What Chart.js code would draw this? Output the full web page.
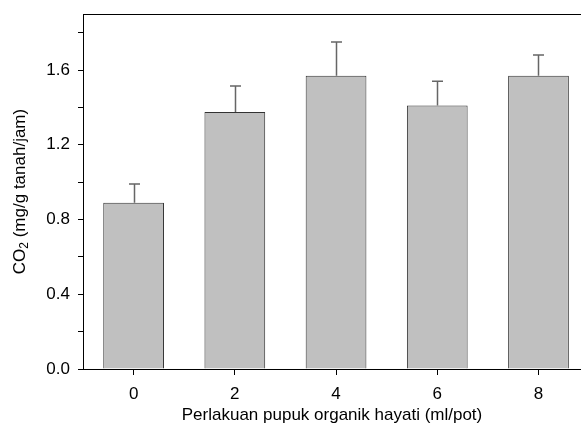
<!DOCTYPE html>
<html lang="id">
<head>
  <meta charset="UTF-8">
  <title>CO2 - Perlakuan pupuk organik hayati</title>
  <script src="https://cdn.jsdelivr.net/npm/chart.js"></script>
  <style>
    body {
      margin: 0;
      background-color: #fff;
      overflow: hidden;
    }
    #co2Chart {
      display: block;
    }
  </style>
</head>
<body>
  <canvas id="co2Chart" width="581" height="432"></canvas>

  <script>
    // dosis pupuk (ml/pot)
    const dosis = [0, 2, 4, 6, 8];
    // rata-rata CO2 (mg/g tanah/jam)
    const co2Mean = [0.89, 1.375, 1.57, 1.41, 1.57];
    // simpangan (error bar ke atas)
    const co2Err = [0.10, 0.14, 0.18, 0.13, 0.11];
    const yTicks = [0.0, 0.4, 0.8, 1.2, 1.6];

    const FONT = 'Arial, "Liberation Sans", sans-serif';
    const FS = 17;

    // garis atas + error bar + judul sumbu y (dengan subscript)
    const extras = {
      id: 'extras',
      afterDatasetsDraw(chart) {
        const ctx = chart.ctx;
        const x = chart.scales.x, y = chart.scales.y;
        ctx.save();
        ctx.strokeStyle = '#666';
        ctx.lineWidth = 1.5;
        dosis.forEach((d, i) => {
          const px = Math.round(x.getPixelForValue(d)) + 0.5;
          const top = y.getPixelForValue(co2Mean[i]);
          const end = y.getPixelForValue(co2Mean[i] + co2Err[i]);
          ctx.beginPath();
          ctx.moveTo(px, top);
          ctx.lineTo(px, end);
          ctx.moveTo(px - 5.5, end);
          ctx.lineTo(px + 5.5, end);
          ctx.stroke();
        });
        ctx.restore();
      },
      afterDraw(chart) {
        const ctx = chart.ctx;
        const area = chart.chartArea;
        ctx.save();
        ctx.strokeStyle = '#000';
        ctx.lineWidth = 1;
        ctx.beginPath();
        ctx.moveTo(area.left, Math.round(area.top) + 0.5);
        ctx.lineTo(chart.width, Math.round(area.top) + 0.5);
        ctx.stroke();

        // judul sumbu y
        ctx.translate(20, (area.top + area.bottom) / 2);
        ctx.rotate(-Math.PI / 2);
        ctx.fillStyle = '#000';
        ctx.textBaseline = 'middle';
        const big = FS + 'px ' + FONT, small = '12px ' + FONT;
        const p1 = 'CO', p2 = '2', p3 = ' (mg/g tanah/jam)';
        ctx.font = big;
        const w1 = ctx.measureText(p1).width, w3 = ctx.measureText(p3).width;
        ctx.font = small;
        const w2 = ctx.measureText(p2).width;
        let sx = -(w1 + w2 + w3) / 2;
        ctx.font = big;
        ctx.fillText(p1, sx, 0);
        sx += w1;
        ctx.font = small;
        ctx.fillText(p2, sx, 5);
        sx += w2;
        ctx.font = big;
        ctx.fillText(p3, sx, 0);
        ctx.restore();
      }
    };

    new Chart(document.getElementById('co2Chart'), {
      type: 'bar',
      data: {
        datasets: [{
          data: dosis.map((d, i) => ({ x: d, y: co2Mean[i] })),
          backgroundColor: '#c0c0c0',
          borderColor: '#333',
          borderWidth: 1,
          barPercentage: 0.6,
          categoryPercentage: 1.0
        }]
      },
      options: {
        responsive: false,
        animation: false,
        layout: { padding: { top: 14, left: 0, right: 0, bottom: 0 } },
        plugins: {
          legend: { display: false },
          tooltip: { enabled: false }
        },
        scales: {
          x: {
            type: 'linear',
            min: -1,
            max: 8.84,
            offset: false,
            afterBuildTicks(axis) {
              axis.ticks = dosis.map(v => ({ value: v }));
            },
            afterFit(axis) {
              axis.height = 63;
              axis.paddingLeft = 0;
              axis.paddingRight = 0;
            },
            grid: { offset: false, drawOnChartArea: false, drawTicks: true, tickLength: 6, color: '#000' },
            border: { display: true, color: '#000', width: 1 },
            ticks: {
              color: '#000',
              padding: 9,
              font: { family: FONT, size: FS },
              callback: v => String(v)
            },
            title: {
              display: true,
              text: 'Perlakuan pupuk organik hayati (ml/pot)',
              color: '#000',
              font: { family: FONT, size: FS },
              padding: { top: 4, bottom: 6 }
            }
          },
          y: {
            min: 0,
            max: 1.9,
            afterBuildTicks(axis) {
              const t = [];
              for (let i = 0; i <= 9; i++) t.push({ value: i * 0.2 });
              axis.ticks = t;
            },
            afterFit(axis) {
              axis.width = 83;
              axis.paddingTop = 0;
              axis.paddingBottom = 0;
            },
            grid: { drawOnChartArea: false, drawTicks: true, tickLength: 5, color: '#000' },
            border: { display: true, color: '#000', width: 1 },
            ticks: {
              color: '#000',
              padding: 8,
              font: { family: FONT, size: FS },
              callback: v => {
                const hit = yTicks.find(t => Math.abs(t - v) < 1e-6);
                return hit === undefined ? '' : hit.toFixed(1);
              }
            }
          }
        }
      },
      plugins: [extras]
    });
  </script>
</body>
</html>
